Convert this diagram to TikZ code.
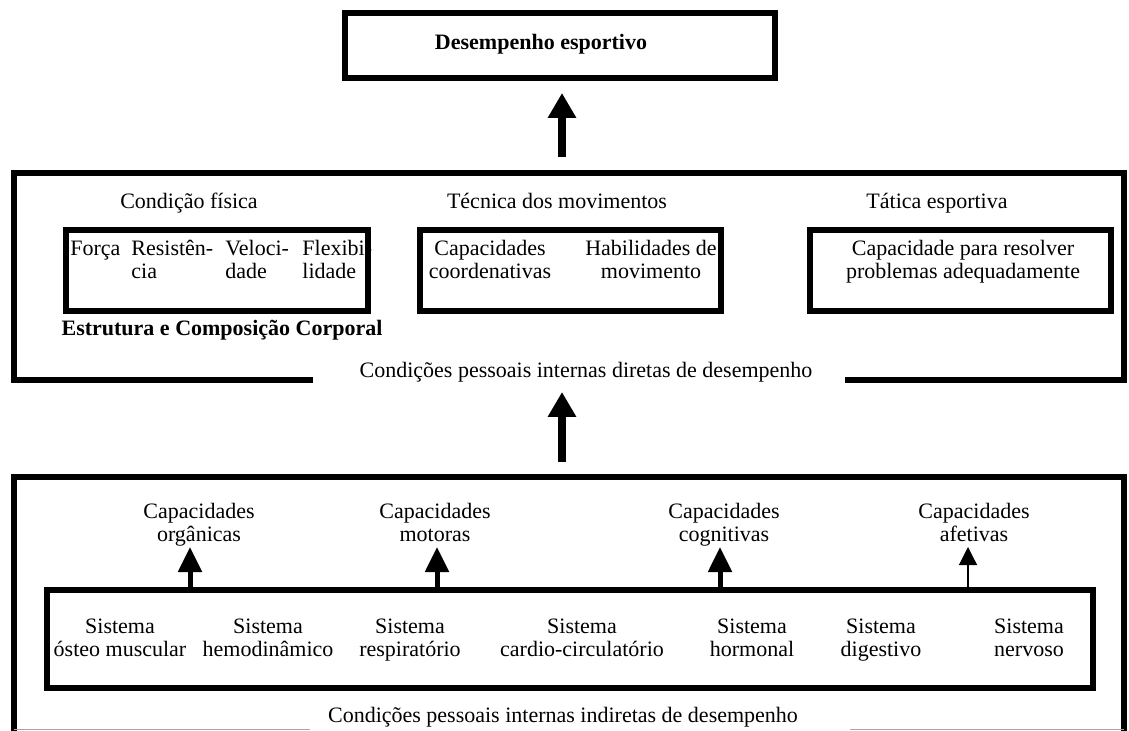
\documentclass[tikz,border=0pt]{standalone}
\usepackage{fontspec}
\setmainfont{Liberation Serif}
\usetikzlibrary{arrows.meta,positioning}
\tikzset{
	frame/.style={draw, line width=3pt, inner sep=0pt},
	lbl/.style={font=\fontsize{11}{11.5}\selectfont, align=center, inner sep=0pt, anchor=base},
	lbll/.style={lbl, align=left, anchor=base west},
	bigarrow/.style={-{Triangle[width=13.5pt,length=12.5pt]}, line width=4pt},
	midarrow/.style={-{Triangle[width=11.5pt,length=12.5pt]}, line width=2.5pt},
	thinarrow/.style={-{Triangle[width=9pt,length=9pt]}, line width=0.6pt},
	cutline/.style={draw=black!35, line width=0.6pt}
}

\begin{document}
\begin{tikzpicture}[x=0.5pt,y=-0.5pt]
	\useasboundingbox (0,0) rectangle (1129,731);

	% top box
	\node [frame, minimum width=215pt, minimum height=32.5pt] (desbox) at (560,46) {};
	\node [lbl] (des) at (541,50) {\textbf{Desempenho esportivo}};

	% direct conditions (two-line labels sit on the baseline of their last line)
	\draw [line width=3pt] (313,380) -- (13.5,380) -- (13.5,173) -- (1124,173) -- (1124,380) -- (845,380);
	\node [lbl] (diretas) at (586,378) {Condições pessoais internas diretas de desempenho};

	\node [lbl] (fisica) at (189,209) {Condição física};
	\node [lbl] (tecnica) at (557,209) {Técnica dos movimentos};
	\node [lbl] (tatica) at (937,209) {Tática esportiva};

	\node [frame, minimum width=151pt, minimum height=40.5pt] (fisbox) at (217,270.5) {};
	\node [frame, minimum width=150.5pt, minimum height=40.5pt] (tecbox) at (570.5,270.5) {};
	\node [frame, minimum width=150.5pt, minimum height=40.5pt] (tatbox) at (960.5,270.5) {};

	\node [lbll] (forca) at (70,256) {Força};
	\node [lbll] (resist) at (131,279) {Resistên-\\cia};
	\node [lbll] (veloc) at (225,279) {Veloci-\\dade};
	\node [lbll] (flex) at (302,279) {Flexibi-\\lidade};
	\node [lbl] (estrutura) at (222,336) {\textbf{Estrutura e Composição Corporal}};

	\node [lbl] (coord) at (490,279) {Capacidades\\coordenativas};
	\node [lbl] (habil) at (651,279) {Habilidades de\\movimento};
	\node [lbl] (resolver) at (963,279) {Capacidade para resolver\\problemas adequadamente};

	% indirect conditions
	\draw [line width=3pt] (13.5,731) -- (13.5,477) -- (1124,477) -- (1124,731);
	\draw [cutline] (13.5,729.5) -- (310,729.5);
	\draw [cutline] (850,729.5) -- (1124,729.5);
	\node [lbl] (indiretas) at (563,722) {Condições pessoais internas indiretas de desempenho};

	\node [frame, minimum width=523pt, minimum height=49pt] (sisbox) at (570,639) {};
	\node [lbl] (osteo) at (120,656) {Sistema\\ósteo muscular};
	\node [lbl] (hemo) at (268,656) {Sistema\\hemodinâmico};
	\node [lbl] (resp) at (410,656) {Sistema\\respiratório};
	\node [lbl] (cardio) at (582,656) {Sistema\\cardio-circulatório};
	\node [lbl] (horm) at (752,656) {Sistema\\hormonal};
	\node [lbl] (dig) at (881,656) {Sistema\\digestivo};
	\node [lbl] (nerv) at (1029,656) {Sistema\\nervoso};

	\node [lbl] (organ) at (199,541) {Capacidades\\orgânicas};
	\node [lbl] (motor) at (435,541) {Capacidades\\motoras};
	\node [lbl] (cogn) at (724,541) {Capacidades\\cognitivas};
	\node [lbl] (afet) at (974,541) {Capacidades\\afetivas};

	% arrows
	\coordinate (a1s) at (562,157);
	\coordinate (a1e) at (562,93);
	\coordinate (a2s) at (562,462);
	\coordinate (a2e) at (562,392);
	\draw [bigarrow] (a1s) -- (a1e);
	\draw [bigarrow] (a2s) -- (a2e);

	\foreach \x in {190, 437, 720}
		\draw [midarrow] (\x,590) -- (\x,547);
	\draw [thinarrow] (968,590) -- (968,547);

\end{tikzpicture}
\end{document}
